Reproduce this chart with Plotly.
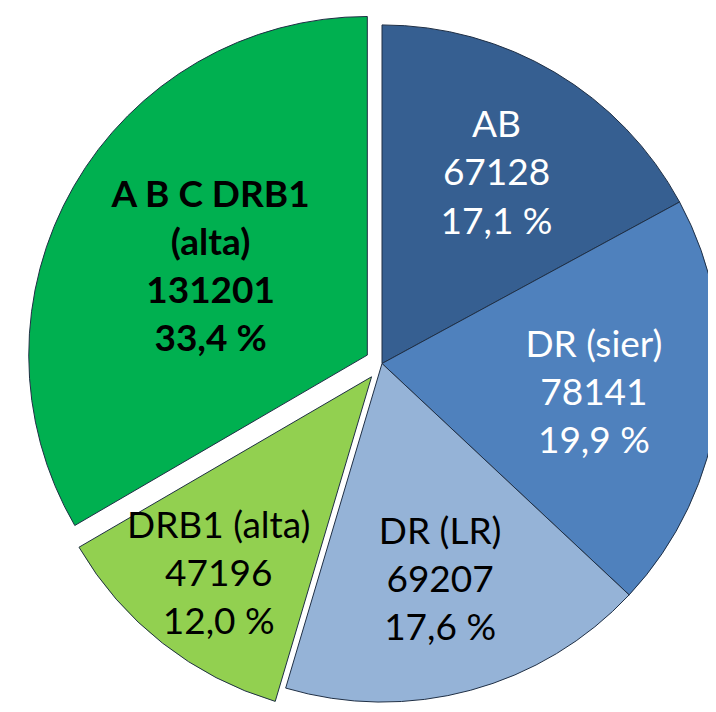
import plotly.graph_objects as go

labels = ["AB", "DR (sier)", "DR (LR)", "DRB1 (alta)", "A B C DRB1<br>(alta)"]
values = [67128, 78141, 69207, 47196, 131201]
colors = ["#365F91", "#4F81BD", "#95B3D7", "#92D050", "#00B050"]
text_colors = ["white", "white", "black", "black", "black"]
pulls = [0, 0, 0, 0.05, 0.05]

total = sum(values)
pct = [v / total * 100 for v in values]

base_tpl = "%{label}<br>%{value:.0f}<br>%{customdata:.1f} %"
templates = [base_tpl] * 4 + ["<b>" + base_tpl + "</b>"]

fig = go.Figure(
    go.Pie(
        labels=labels,
        values=values,
        customdata=pct,
        sort=False,
        direction="clockwise",
        rotation=0,
        pull=pulls,
        marker=dict(colors=colors, line=dict(color="#1F2F45", width=1)),
        texttemplate=templates,
        textposition="inside",
        insidetextorientation="horizontal",
        textfont=dict(family="Lato", size=37, color=text_colors),
        hoverinfo="label+value+percent",
        showlegend=False,
    )
)

fig.update_layout(
    width=748,
    height=711,
    margin=dict(l=0, r=0, t=0, b=0),
    paper_bgcolor="white",
    plot_bgcolor="white",
    separators=", ",
    uniformtext=dict(mode="show", minsize=37),
)

fig.write_html("out.html")
